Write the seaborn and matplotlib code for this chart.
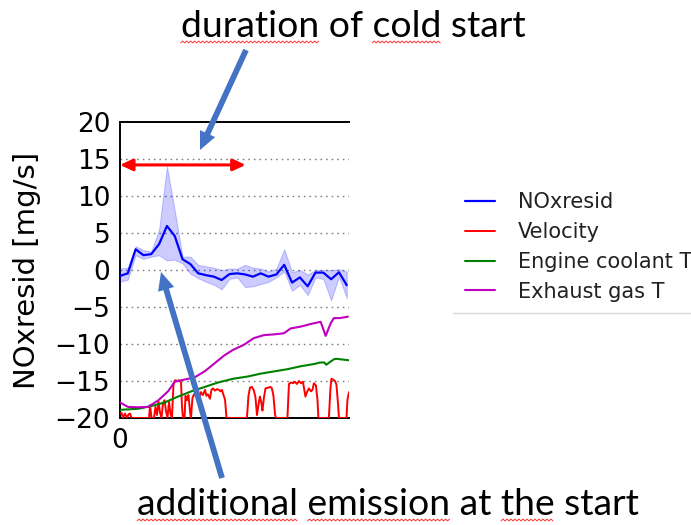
import matplotlib
matplotlib.use("Agg")
import matplotlib.pyplot as plt
import seaborn as sns
from matplotlib.patches import FancyArrowPatch
from matplotlib.lines import Line2D

# ---------------- data (time in s, values on the NOx axis scale) ----------------
nox_time = [0, 56, 112, 168, 224, 280, 336, 392, 448, 504, 560, 616, 672, 728, 784,
            840, 896, 952, 1008, 1064, 1120, 1176, 1232, 1288, 1344, 1400, 1456,
            1512, 1568, 1624]
nox_mean = [-0.8, -0.45, 2.8, 2.0, 2.15, 3.5, 5.95, 4.6, 1.45, 0.8, -0.45, -0.7,
            -0.9, -1.35, -0.55, -0.45, -0.6, -0.9, -0.45, -0.9, -0.6, 0.7, -1.7,
            -1.0, -2.2, -0.35, -0.35, -1.25, -0.3, -2.05]
nox_upper = [0.2, 0.3, 3.2, 2.7, 2.5, 5.5, 14.0, 8.0, 1.8, 1.8, 0.7, 0.5, 0.3, 0.0,
             0.2, 0.2, 0.7, 0.3, 0.2, -0.2, 0.2, 2.8, -0.3, 0.0, -0.6, 0.0, 0.0,
             0.0, 0.1, -0.2]
nox_lower = [-1.6, -1.3, 2.0, 1.5, 1.8, 2.0, 1.3, 1.4, 0.9, -0.5, -1.1, -1.6, -2.0,
             -2.6, -1.2, -1.0, -2.3, -2.2, -1.9, -1.6, -1.0, -0.2, -2.8, -2.0, -3.4,
             -1.0, -1.2, -4.1, -0.9, -3.8]

vel_time = [0, 11, 21, 36, 50, 61, 72, 82, 208, 215, 226, 243, 254, 265, 276, 286,
            297, 308, 319, 329, 340, 351, 362, 372, 383, 394, 408, 422, 437, 444,
            451, 462, 469, 480, 490, 501, 508, 519, 530, 544, 558, 569, 580, 594,
            609, 619, 630, 644, 655, 666, 680, 695, 709, 720, 730, 741, 752, 763,
            909, 920, 931, 945, 959, 970, 981, 992, 1002, 1013, 1020, 1031, 1042,
            1060, 1078, 1088, 1099, 1110, 1117, 1199, 1210, 1224, 1239, 1253, 1267,
            1282, 1296, 1310, 1328, 1339, 1353, 1368, 1378, 1389, 1403, 1414, 1421,
            1496, 1507, 1514, 1525, 1540, 1550, 1561, 1568, 1622, 1629, 1640]
vel_vals = [-19.4, -19.3, -20, -19.4, -20, -19.5, -19.4, -20, -20, -18.3, -20, -20,
            -18.5, -19.6, -17.8, -19.2, -20, -18.0, -17.6, -19.0, -20, -17.8, -19.5,
            -20, -15.5, -14.9, -15.0, -14.9, -15.2, -18.5, -20, -20, -17.0, -17.6,
            -16.9, -19.0, -20, -17.3, -16.8, -17.0, -16.7, -17.3, -16.5, -16.9,
            -16.2, -17.0, -16.8, -17.4, -16.2, -16.0, -16.3, -16.1, -16.2, -16.4,
            -16.2, -16.9, -17.5, -20, -20, -17.0, -15.9, -15.8, -16.3, -17.2, -19.6,
            -18.2, -17.1, -18.0, -19.0, -17.2, -16.0, -15.9, -15.8, -16.0, -17.0,
            -19.5, -20, -20, -15.4, -15.2, -15.3, -15.1, -15.4, -15.0, -15.3, -15.1,
            -17.1, -16.5, -16.0, -16.4, -16.2, -15.3, -15.6, -17.5, -20, -20, -16.0,
            -14.7, -14.8, -15.0, -15.5, -18.0, -20, -20, -17.5, -16.5]

coolant_time = [0, 129, 222, 320, 416, 511, 607, 703, 809, 913, 1009, 1104, 1200,
                1296, 1391, 1434, 1463, 1477, 1506, 1534, 1549, 1640]
coolant_vals = [-18.9, -18.75, -18.4, -17.9, -17.1, -16.4, -15.8, -15.2, -14.7,
                -14.4, -14.0, -13.7, -13.4, -13.0, -12.7, -12.5, -12.5, -12.8,
                -12.4, -12.05, -12.0, -12.2]

exhaust_time = [0, 57, 129, 200, 272, 344, 392, 463, 535, 606, 678, 750, 809, 888,
                959, 1031, 1103, 1174, 1222, 1294, 1365, 1437, 1473, 1509, 1532,
                1575, 1632]
exhaust_vals = [-17.9, -18.5, -18.55, -18.5, -17.65, -16.4, -15.1, -14.8, -14.5,
                -13.7, -12.6, -11.5, -10.8, -10.1, -9.2, -8.8, -8.7, -8.55, -7.9,
                -7.65, -7.3, -7.0, -8.9, -7.2, -6.5, -6.5, -6.3]

series_labels = ["NOxresid", "Velocity", "Engine coolant T", "Exhaust gas T"]
y_ticks = [-20, -15, -10, -5, 0, 5, 10, 15, 20]
cold_start_end = 900

# ---------------- figure ----------------
sns.set_style("white")
plt.rcParams["font.family"] = ["DejaVu Sans"]
plt.rcParams["text.color"] = "black"
plt.rcParams["axes.labelcolor"] = "black"

W, H = 691, 525
fig = plt.figure(figsize=(W / 100, H / 100), dpi=100)


def fx(px):
    return px / W


def fy(py):
    return 1 - py / H


ax = fig.add_axes([fx(120), fy(418), (349 - 120) / W, (418 - 122) / H])

ax.fill_between(nox_time, nox_lower, nox_upper, color="#0000ff", alpha=0.2,
                lw=0.8, zorder=3)
sns.lineplot(x=nox_time, y=nox_mean, ax=ax, color="#0000ff", lw=1.6,
             label=series_labels[0], zorder=4)
sns.lineplot(x=vel_time, y=vel_vals, ax=ax, color="#ff0000", lw=1.4,
             label=series_labels[1], zorder=3)
sns.lineplot(x=coolant_time, y=coolant_vals, ax=ax, color="#008000", lw=1.5,
             label=series_labels[2], zorder=3)
sns.lineplot(x=exhaust_time, y=exhaust_vals, ax=ax, color="#bf00bf", lw=1.5,
             label=series_labels[3], zorder=3)

ax.set_xlim(0, 1640)
ax.set_ylim(-20, 20)
ax.set_yticks(y_ticks)
ax.set_xticks([0])
ax.set_xlabel("")
ax.grid(False)
for y in y_ticks[1:-1]:
    ax.axhline(y, color="#808080", lw=1.0, ls=(0, (1.2, 2.8)), zorder=1)

for side in ("left", "top", "bottom"):
    ax.spines[side].set_color("black")
    ax.spines[side].set_linewidth(1.4)
ax.spines["right"].set_visible(False)
ax.tick_params(axis="both", length=0, labelsize=19, pad=7, colors="black")

ax.set_ylabel("NOxresid [mg/s]", fontsize=21, color="black")
ax.yaxis.set_label_coords(-0.345, 0.5)

# legend outside the axes
handles, labels = ax.get_legend_handles_labels()
ax.get_legend().remove()
leg = fig.legend(handles, labels, loc="center left",
                 bbox_to_anchor=(fx(465), fy(247)), frameon=False, fontsize=15,
                 handlelength=1.44, handletextpad=1.1, labelspacing=0.47,
                 borderpad=0, borderaxespad=0)
for txt in leg.get_texts():
    txt.set_color("#222222")
fig.add_artist(Line2D([fx(453), fx(691)], [fy(313), fy(313)],
                      color="#d9d9d9", lw=1.0))

# cold-start duration marker
ax.annotate("", xy=(0, 14.2), xytext=(cold_start_end, 14.2),
            arrowprops=dict(arrowstyle="<|-|>,head_length=0.75,head_width=0.35",
                            color="#ff0000", lw=2.2, shrinkA=0, shrinkB=0,
                            mutation_scale=10),
            annotation_clip=False, zorder=6)

# callout arrows and captions
arrow_style = "simple,head_length=1.3,head_width=1.2,tail_width=0.42"
for tail, tip in (((246, 50), (200, 150)), ((222, 478), (161, 272))):
    fig.add_artist(FancyArrowPatch(posA=(fx(tail[0]), fy(tail[1])),
                                   posB=(fx(tip[0]), fy(tip[1])),
                                   transform=fig.transFigure,
                                   arrowstyle=arrow_style, mutation_scale=10,
                                   color="#4472C4", lw=0, shrinkA=0, shrinkB=0,
                                   zorder=10))

caption_props = dict(fontsize=26.8, family="Lato", ha="center", va="baseline",
                     color="black")
top_caption = fig.text(fx(353), fy(37), "duration of cold start", **caption_props)
bottom_caption = fig.text(fx(388), fy(515), "additional emission at the start",
                          **caption_props)

# spell-check style wavy underlines below selected words
fig.canvas.draw()
renderer = fig.canvas.get_renderer()


def text_width(s):
    probe = fig.text(0, 0, s, **caption_props)
    w = probe.get_window_extent(renderer).width
    probe.remove()
    return w


def wavy_underline(text_obj, words, baseline_px):
    full = text_obj.get_text()
    bbox = text_obj.get_window_extent(renderer)
    y0 = H - baseline_px - 5
    for word in words:
        start = full.index(word)
        x0 = bbox.x0 + (text_width(full[:start]) if start else 0)
        x1 = x0 + text_width(word)
        xs, ys = [], []
        x, k = x0, 0
        while x <= x1:
            xs.append(x / W)
            ys.append((y0 + (0.9 if k % 2 else -0.9)) / H)
            x += 2.0
            k += 1
        fig.add_artist(Line2D(xs, ys, color="#ff3030", lw=0.7,
                              transform=fig.transFigure))


wavy_underline(top_caption, ["duration", "cold"], 37)
wavy_underline(bottom_caption, ["additional", "emission", "the"], 515)

fig.savefig("out.png", dpi=100)
